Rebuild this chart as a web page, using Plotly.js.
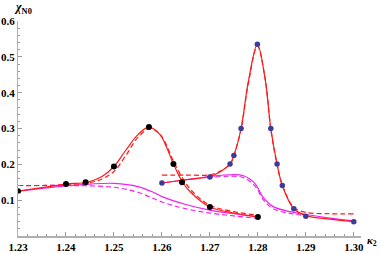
<!DOCTYPE html>
<html>
<head>
<meta charset="utf-8">
<script src="https://cdn.plot.ly/plotly-3.0.1.min.js"></script>
<style>html,body{margin:0;padding:0;background:#fff;}#chart{width:382px;height:254px;}</style>
</head>
<body>
<div id="chart"></div>
<script>
// Branch 1 (left peak)
const b1RedSolidK = [1.23, 1.235, 1.24, 1.2445, 1.2475, 1.25, 1.2525, 1.255, 1.2573, 1.2596, 1.2609, 1.2624, 1.2643, 1.266, 1.27, 1.275, 1.28];
const b1RedSolidY = [0.125, 0.135, 0.145, 0.150, 0.166, 0.194, 0.240, 0.283, 0.304, 0.283, 0.250, 0.201, 0.150, 0.122, 0.081, 0.064, 0.053];
const b1RedDashK = [1.23, 1.235, 1.24, 1.245, 1.2475, 1.25, 1.2525, 1.255, 1.2575, 1.2598, 1.2626, 1.2646, 1.2665, 1.27, 1.275, 1.28];
const b1RedDashY = [0.141, 0.141, 0.143, 0.149, 0.159, 0.180, 0.225, 0.275, 0.300, 0.280, 0.203, 0.155, 0.122, 0.086, 0.068, 0.058];
const b1MagSolidK = [1.23, 1.235, 1.24, 1.245, 1.25, 1.255, 1.2582, 1.26, 1.265, 1.27, 1.275, 1.28];
const b1MagSolidY = [0.125, 0.133, 0.140, 0.145, 0.147, 0.138, 0.122, 0.110, 0.088, 0.072, 0.062, 0.054];
const b1MagDashK = [1.23, 1.235, 1.24, 1.245, 1.25, 1.255, 1.26, 1.265, 1.27, 1.275, 1.28];
const b1MagDashY = [0.141, 0.141, 0.141, 0.140, 0.136, 0.122, 0.095, 0.076, 0.064, 0.056, 0.049];
const b1PointsK = [1.23, 1.24, 1.2441, 1.25, 1.2573, 1.2624, 1.2642, 1.27, 1.28];
const b1PointsY = [0.125, 0.145, 0.150, 0.194, 0.304, 0.201, 0.150, 0.081, 0.053];

// Branch 2 (right peak)
const b2RedSolidK = [1.26, 1.265, 1.27, 1.272, 1.2742, 1.275, 1.2765, 1.278, 1.2799, 1.2815, 1.2827, 1.284, 1.2851, 1.2875, 1.29, 1.295, 1.30];
const b2RedSolidY = [0.148, 0.157, 0.166, 0.178, 0.201, 0.225, 0.300, 0.430, 0.535, 0.440, 0.300, 0.201, 0.141, 0.076, 0.057, 0.047, 0.040];
const b2RedDashK = [1.26, 1.265, 1.27, 1.272, 1.2742, 1.275, 1.2765, 1.278, 1.2799, 1.2815, 1.2827, 1.284, 1.2851, 1.2875, 1.29, 1.295, 1.30];
const b2RedDashY = [0.170, 0.170, 0.171, 0.180, 0.200, 0.224, 0.298, 0.425, 0.530, 0.440, 0.298, 0.200, 0.142, 0.080, 0.066, 0.062, 0.062];
const b2MagSolidK = [1.26, 1.265, 1.27, 1.2745, 1.277, 1.2795, 1.281, 1.2832, 1.2867, 1.29, 1.295, 1.30];
const b2MagSolidY = [0.148, 0.157, 0.166, 0.171, 0.168, 0.145, 0.110, 0.082, 0.068, 0.060, 0.050, 0.042];
const b2MagDashK = [1.2695, 1.2745, 1.277, 1.2795, 1.2812, 1.2832, 1.2867, 1.29];
const b2MagDashY = [0.163, 0.167, 0.163, 0.138, 0.100, 0.076, 0.063, 0.057];
const b2PointsK = [1.26, 1.27, 1.2742, 1.275, 1.2765, 1.2799, 1.2827, 1.284, 1.2851, 1.2875, 1.29, 1.30];
const b2PointsY = [0.148, 0.165, 0.201, 0.225, 0.300, 0.535, 0.300, 0.201, 0.141, 0.076, 0.055, 0.040];

const xTickVals = [1.23, 1.24, 1.25, 1.26, 1.27, 1.28, 1.29, 1.30];
const xTickText = ['1.23', '1.24', '1.25', '1.26', '1.27', '1.28', '1.29', '1.30'];
const yTickVals = [0.1, 0.2, 0.3, 0.4, 0.5, 0.6];
const yTickText = ['0.1', '0.2', '0.3', '0.4', '0.5', '0.6'];

const RED = '#ff1a1a', MAG = '#f020f0';
function line(x, y, color, dash) {
  return {x: x, y: y, mode: 'lines', type: 'scatter', hoverinfo: 'skip',
    line: {color: color, width: 1.2, dash: dash ? '5px,3px' : 'solid', shape: 'spline', smoothing: 1}};
}
const traces = [
  line(b1MagDashK, b1MagDashY, MAG, true),
  line(b1MagSolidK, b1MagSolidY, MAG, false),
  line(b2MagDashK, b2MagDashY, MAG, true),
  line(b2MagSolidK, b2MagSolidY, MAG, false),
  line(b1RedDashK, b1RedDashY, RED, true),
  line(b1RedSolidK, b1RedSolidY, RED, false),
  line(b2RedDashK, b2RedDashY, RED, true),
  line(b2RedSolidK, b2RedSolidY, RED, false),
  {x: b1PointsK, y: b1PointsY, mode: 'markers', type: 'scatter', marker: {color: '#000', size: 6}},
  {x: b2PointsK, y: b2PointsY, mode: 'markers', type: 'scatter', marker: {color: '#3b3b9c', size: 5.5}}
];

const tickFont = {family: 'Liberation Serif, Times New Roman, serif', size: 11, color: '#000', weight: 'bold'};
const layout = {
  width: 382, height: 254,
  margin: {l: 18, r: 21, t: 21, b: 17.5, pad: 0},
  paper_bgcolor: '#fff', plot_bgcolor: '#fff',
  showlegend: false,
  xaxis: {
    range: [1.23, 1.3015], showgrid: false, zeroline: false,
    showline: true, linecolor: '#b0b0b0', linewidth: 1.5,
    tickmode: 'array', tickvals: xTickVals, ticktext: xTickText,
    ticks: 'inside', ticklen: 4, tickcolor: '#999', tickfont: tickFont,
    minor: {dtick: 0.002, tick0: 1.23, ticks: 'inside', ticklen: 2, tickcolor: '#999', showgrid: false}
  },
  yaxis: {
    range: [0, 0.6], showgrid: false, zeroline: false,
    showline: true, linecolor: '#b0b0b0', linewidth: 1,
    tickmode: 'array', tickvals: yTickVals, ticktext: yTickText,
    ticks: 'inside', ticklen: 4, tickcolor: '#999', tickfont: tickFont,
    minor: {dtick: 0.02, tick0: 0, ticks: 'inside', ticklen: 2, tickcolor: '#999', showgrid: false}
  },
  annotations: [
    {text: '<i>χ</i><sub>N0</sub>', xref: 'paper', yref: 'paper', x: 0, y: 1, xshift: -6, yshift: 3,
      xanchor: 'left', yanchor: 'bottom', showarrow: false,
      font: {family: 'Liberation Serif, serif', size: 12, color: '#000', weight: 'bold'}},
    {text: '<i>κ</i><sub>2</sub>', xref: 'paper', yref: 'paper', x: 1, y: 0, xshift: 4, yshift: -14,
      xanchor: 'left', yanchor: 'bottom', showarrow: false,
      font: {family: 'Liberation Serif, serif', size: 11, color: '#000', weight: 'bold'}}
  ]
};
Plotly.newPlot('chart', traces, layout, {staticPlot: true, displayModeBar: false});
</script>
</body>
</html>
